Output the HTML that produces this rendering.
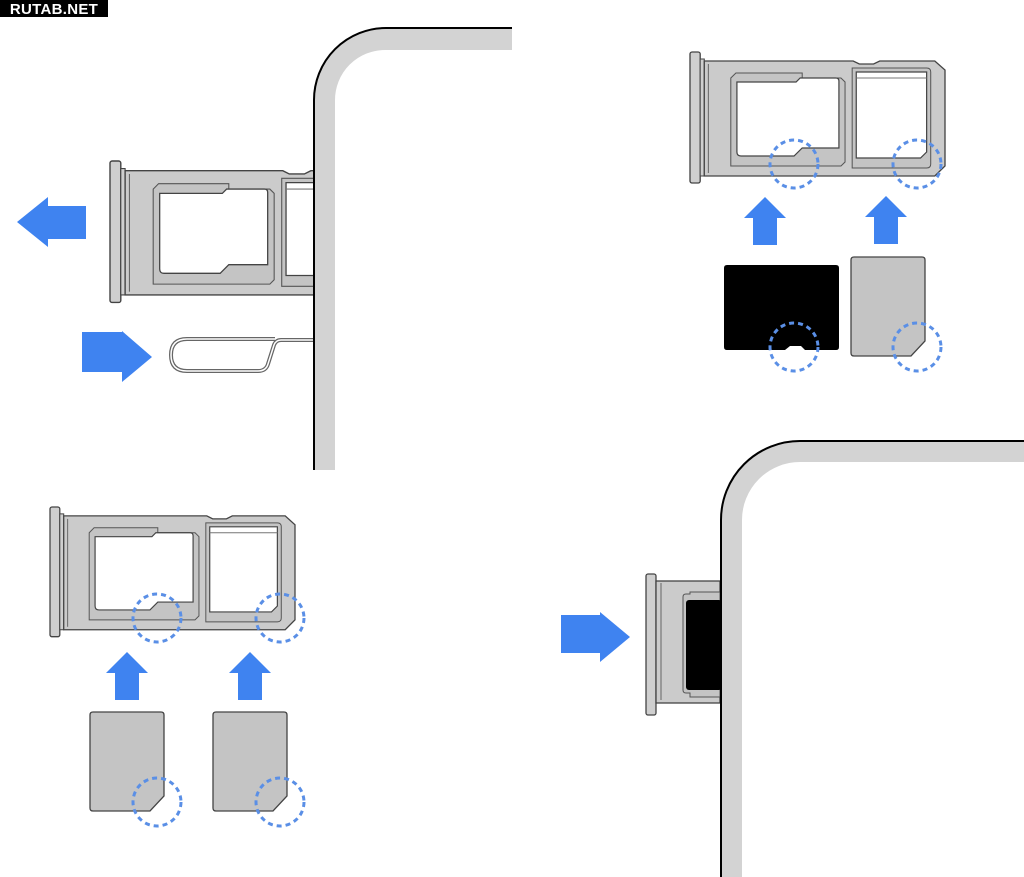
<!DOCTYPE html>
<html><head><meta charset="utf-8"><style>
html,body{margin:0;padding:0;background:#fff;}
svg{display:block;}
</style></head><body>
<svg width="1024" height="877" viewBox="0 0 1024 877" xmlns="http://www.w3.org/2000/svg">
<defs>
<g id="tray">
  <rect x="0" y="0" width="10" height="131" rx="2" fill="#cfcfcf" stroke="#444" stroke-width="1.3"/>
  <path d="M10,7 H14 V124 H10 Z" fill="#cfcfcf" stroke="#444" stroke-width="1"/>
  <path d="M14,9 H160 L166,12 H180 L186,9 H240 L250,18 V114 L240,124 H14 Z" fill="#cbcbcb" stroke="#444" stroke-width="1.3"/>
  <path d="M18,12 V121" stroke="#666" stroke-width="1"/>
  <path d="M40,26 L45,21 H110 V26 H148 L152,30 V110 L148,114 H40 Z" fill="#c4c4c4" stroke="#555" stroke-width="1"/>
  <path d="M46,30 H104 L108,26 H143 Q146,26 146,29 V96 H110 L102,104 H50 Q46,104 46,100 Z" fill="#fff" stroke="#444" stroke-width="1.2"/>
  <path d="M159,16 H232 Q236,16 236,20 V112 Q236,116 232,116 H159 Z" fill="#c4c4c4" stroke="#555" stroke-width="1"/>
  <path d="M163,20 H232 V100 L226,106 H163 Z" fill="#fff" stroke="#444" stroke-width="1.2"/>
  <path d="M163,26 H232" stroke="#777" stroke-width="1"/>
</g>
<g id="upArrow" fill="#3f83f0">
  <path d="M0,0 L21,21 H12 V48 H-12 V21 H-21 Z"/>
</g>
<g id="sim">
  <path d="M3,0 H71 Q74,0 74,3 V84 L60,99 H3 Q0,99 0,96 V3 Q0,0 3,0 Z" fill="#c4c4c4" stroke="#444" stroke-width="1.3"/>
</g>
<clipPath id="cl1"><rect x="0" y="0" width="315" height="877"/></clipPath>
</defs>

<!-- watermark -->
<rect x="0" y="0" width="108" height="17" fill="#000"/>
<text x="54" y="14" text-anchor="middle" font-family="Liberation Sans, sans-serif" font-weight="bold" font-size="15" fill="#fff" letter-spacing="0.3">RUTAB.NET</text>

<!-- TOP LEFT -->
<g clip-path="url(#cl1)">
  <g transform="translate(110,161) scale(1.08)"><use href="#tray"/></g>
</g>
<path d="M324,470 V100 A61,61 0 0 1 385,39 H512" fill="none" stroke="#d3d3d3" stroke-width="22"/>
<path d="M314,470 V100 A72,72 0 0 1 386,28 H512" fill="none" stroke="#000" stroke-width="2"/>
<path d="M17,222 L48,197 V206 H86 V239 H48 V247 Z" fill="#3f83f0"/>
<path d="M82,332 H122 V331 L152,357 L122,382 V372 H82 Z" fill="#3f83f0"/>
<path d="M313,340 H281 Q276,340 274,345 L268,364 Q266,371 258,371 H187 Q171,371 171,355 Q171,339 187,339 H275" fill="none" stroke="#666" stroke-width="4"/>
<path d="M313,340 H281 Q276,340 274,345 L268,364 Q266,371 258,371 H187 Q171,371 171,355 Q171,339 187,339 H275" fill="none" stroke="#fff" stroke-width="1.5"/>

<!-- TOP RIGHT -->
<g transform="translate(690,52) scale(1.02,1.0)"><use href="#tray"/></g>
<g fill="none" stroke="#5a8fe6" stroke-width="3" stroke-dasharray="5,4">
  <circle cx="794" cy="164" r="24"/>
  <circle cx="917" cy="164" r="24"/>
</g>
<g transform="translate(765,197)"><use href="#upArrow"/></g>
<g transform="translate(886,196)"><use href="#upArrow"/></g>
<path d="M727,265 H836 Q839,265 839,268 V347 Q839,350 836,350 H805 L801,346 H790 L785,350 H727 Q724,350 724,347 V268 Q724,265 727,265 Z" fill="#000"/>
<g transform="translate(851,257)"><use href="#sim"/></g>
<g fill="none" stroke="#5a8fe6" stroke-width="3" stroke-dasharray="5,4">
  <circle cx="794" cy="347" r="24"/>
  <circle cx="917" cy="347" r="24"/>
</g>

<!-- BOTTOM LEFT -->
<g transform="translate(50,507) scale(0.98,0.99)"><use href="#tray"/></g>
<g fill="none" stroke="#5a8fe6" stroke-width="3" stroke-dasharray="5,4">
  <circle cx="157" cy="618" r="24"/>
  <circle cx="280" cy="618" r="24"/>
</g>
<g transform="translate(127,652)"><use href="#upArrow"/></g>
<g transform="translate(250,652)"><use href="#upArrow"/></g>
<g transform="translate(90,712)"><use href="#sim"/></g>
<g transform="translate(213,712)"><use href="#sim"/></g>
<g fill="none" stroke="#5a8fe6" stroke-width="3" stroke-dasharray="5,4">
  <circle cx="157" cy="802" r="24"/>
  <circle cx="280" cy="802" r="24"/>
</g>

<!-- BOTTOM RIGHT -->
<rect x="646" y="574" width="10" height="141" rx="2" fill="#cfcfcf" stroke="#444" stroke-width="1.3"/>
<rect x="656" y="581" width="64" height="122" fill="#cbcbcb" stroke="#444" stroke-width="1.3"/>
<path d="M661,583 V700" stroke="#666" stroke-width="1"/>
<path d="M690,592 H720 V697 H690 V693 H686 Q683,693 683,690 V597 Q683,594 686,594 H690 Z" fill="#c4c4c4" stroke="#555" stroke-width="1"/>
<rect x="686" y="600" width="36" height="90" rx="3" fill="#000"/>
<path d="M731,877 V520 A69,69 0 0 1 800,451 H1024" fill="none" stroke="#d3d3d3" stroke-width="22"/>
<path d="M721,877 V520 A79,79 0 0 1 800,441 H1024" fill="none" stroke="#000" stroke-width="2"/>
<path d="M561,615 H600 V612 L630,637 L600,662 V653 H561 Z" fill="#3f83f0"/>
</svg>
</body></html>
